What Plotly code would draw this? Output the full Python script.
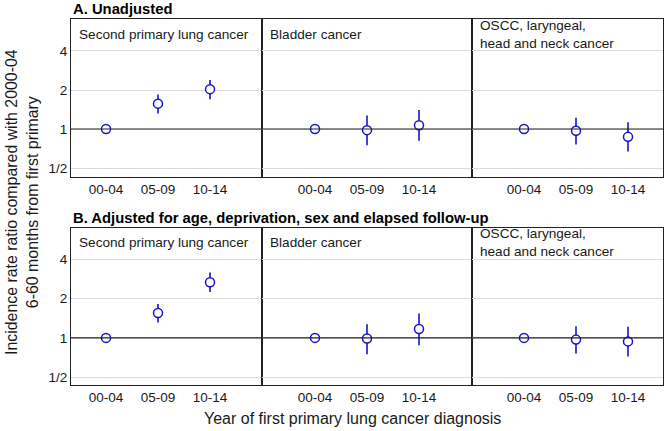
import math
import plotly.graph_objects as go

# ---------------- data ----------------
categories = ["00-04", "05-09", "10-14"]
panel_titles = ["Second primary lung cancer", "Bladder cancer", "OSCC, laryngeal,<br>head and neck cancer"]
row_titles = ["<b>A. Unadjusted</b>", "<b>B. Adjusted for age, deprivation, sex and elapsed follow-up</b>"]
y_tick_vals = [0.5, 1, 2, 4]
y_tick_text = ["1/2", "1", "2", "4"]

# Row A (unadjusted)
lung_A_est = [1.00, 1.57, 2.03]
lung_A_lo = [1.00, 1.32, 1.70]
lung_A_hi = [1.00, 1.85, 2.39]
bladder_A_est = [1.00, 0.98, 1.07]
bladder_A_lo = [1.00, 0.75, 0.81]
bladder_A_hi = [1.00, 1.27, 1.40]
oscc_A_est = [1.00, 0.97, 0.87]
oscc_A_lo = [1.00, 0.76, 0.67]
oscc_A_hi = [1.00, 1.22, 1.13]

# Row B (adjusted)
lung_B_est = [1.00, 1.55, 2.67]
lung_B_lo = [1.00, 1.31, 2.25]
lung_B_hi = [1.00, 1.82, 3.17]
bladder_B_est = [1.00, 0.99, 1.17]
bladder_B_lo = [1.00, 0.75, 0.88]
bladder_B_hi = [1.00, 1.27, 1.54]
oscc_B_est = [1.00, 0.97, 0.94]
oscc_B_lo = [1.00, 0.76, 0.72]
oscc_B_hi = [1.00, 1.23, 1.22]

rows = [
    [(lung_A_est, lung_A_lo, lung_A_hi), (bladder_A_est, bladder_A_lo, bladder_A_hi), (oscc_A_est, oscc_A_lo, oscc_A_hi)],
    [(lung_B_est, lung_B_lo, lung_B_hi), (bladder_B_est, bladder_B_lo, bladder_B_hi), (oscc_B_est, oscc_B_lo, oscc_B_hi)],
]

# ---------------- layout geometry ----------------
W, H = 669, 431
col_px = [(71, 262), (262, 472), (472, 663)]
x_ranges = [[0.327, 4.0], [-0.019, 4.019], [0.0, 3.673]]
row_px = [(19, 177), (228, 385)]
L2 = math.log10(2)
y_ranges = [[-1.23 * L2, 2.82 * L2], [-1.20 * L2, 2.80 * L2]]

BLUE = "#1414CC"
FONT = "Liberation Sans, Arial, sans-serif"
TXT = "#1a1a1a"

fig = go.Figure()
layout = dict(
    width=W, height=H,
    margin=dict(l=0, r=0, t=0, b=0),
    paper_bgcolor="white", plot_bgcolor="white",
    showlegend=False,
    font=dict(family=FONT, size=13, color=TXT),
)
annotations = []
shapes = []

x_cat = [1, 2, 3]
k = 0
for r in range(2):
    for c in range(3):
        k += 1
        xa = "x" if k == 1 else f"x{k}"
        ya = "y" if k == 1 else f"y{k}"
        est, lo, hi = rows[r][c]
        fig.add_trace(go.Scatter(
            x=x_cat, y=est, mode="markers", xaxis=xa, yaxis=ya,
            marker=dict(symbol="circle", size=9, color="white", line=dict(color=BLUE, width=1.5)),
            error_y=dict(type="data", symmetric=False,
                         array=[h - e for h, e in zip(hi, est)],
                         arrayminus=[e - l for e, l in zip(est, lo)],
                         color=BLUE, thickness=1.6, width=0),
        ))
        x0, x1 = col_px[c]
        y0, y1 = row_px[r]
        layout["xaxis" if k == 1 else f"xaxis{k}"] = dict(
            domain=[x0 / W, x1 / W], anchor=ya, range=x_ranges[c],
            tickvals=x_cat, ticktext=categories, showgrid=False, zeroline=False,
            showline=True, mirror=True, linecolor="#222", linewidth=1,
            ticks="", tickfont=dict(size=13.5, color=TXT), fixedrange=True,
        )
        layout["yaxis" if k == 1 else f"yaxis{k}"] = dict(
            domain=[1 - y1 / H, 1 - y0 / H], anchor=xa, type="log", range=y_ranges[r],
            tickvals=y_tick_vals, ticktext=y_tick_text, showticklabels=(c == 0),
            showgrid=True, gridcolor="#DCDCDC", gridwidth=1, zeroline=False,
            showline=True, mirror=True, linecolor="#222", linewidth=1,
            ticks="", tickfont=dict(size=13.5, color=TXT), fixedrange=True,
        )
        # reference line at ratio 1
        shapes.append(dict(type="line", xref=f"{xa} domain", yref=ya, x0=0, x1=1, y0=1, y1=1,
                           line=dict(color="#222", width=1.2), layer="above"))
        # panel strip label
        annotations.append(dict(
            text=panel_titles[c], xref="paper", yref="paper",
            x=(x0 + 6) / W, y=1 - (y0 + 15) / H, xanchor="left", yanchor="middle",
            showarrow=False, align="left", font=dict(size=13.6, color=TXT),
        ))

# row titles
for r, t in enumerate(row_titles):
    annotations.append(dict(
        text=t, xref="paper", yref="paper", x=71 / W, y=1 - (row_px[r][0] - 10) / H,
        xanchor="left", yanchor="middle", showarrow=False,
        font=dict(size=14.8, color="black"),
    ))

# axis titles
annotations.append(dict(
    text="Incidence rate ratio compared with 2000-04<br>6-60 months from first primary",
    xref="paper", yref="paper", x=22 / W, y=1 - 202 / H, textangle=-90,
    xanchor="center", yanchor="middle", showarrow=False,
    font=dict(size=15.9, color=TXT),
))
annotations.append(dict(
    text="Year of first primary lung cancer diagnosis",
    xref="paper", yref="paper", x=352 / W, y=1 - 418 / H,
    xanchor="center", yanchor="middle", showarrow=False,
    font=dict(size=16, color=TXT),
))

layout["annotations"] = annotations
layout["shapes"] = shapes
fig.update_layout(**layout)
fig.write_html(
    "out.html",
    config={"displayModeBar": False, "staticPlot": True},
    post_script="document.body.style.margin='0';document.body.style.overflow='hidden';",
)
